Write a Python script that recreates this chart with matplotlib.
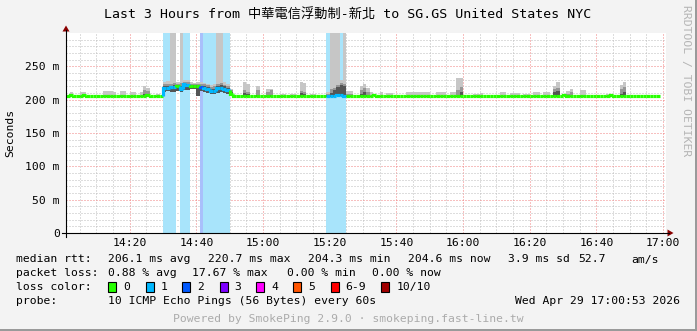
import matplotlib
matplotlib.use("Agg")
import matplotlib.pyplot as plt
from matplotlib.collections import LineCollection
from matplotlib.patches import Rectangle, Polygon

plt.rcParams['font.family'] = ['DejaVu Sans Mono', 'Noto Sans CJK TC']

W, H = 697, 331

# one value per minute, minute 1 = 14:01 ... minute 178 = 16:58
median = [
    205, 206.5, 205, 205, 205, 206.5, 205, 205, 205, 205,
    205, 205, 205, 205, 205, 205, 205, 205, 205, 205,
    205, 205, 205, 205, 206.5, 205, 205, 205, 205, 218,
    218, 219, 219, 220, 216, 223, 222, 220, 220, 220,
    219, 218, 216, 213, 213, 217, 218, 216, 215, 208,
    205, 205, 205, 205, 205, 205, 205, 205, 205, 205,
    205, 205, 205, 205, 205, 205, 205, 205, 205, 205,
    205, 205, 205, 205, 205, 205, 205, 205, 206, 205.5,
    206, 207, 207, 206, 205, 205, 205, 205, 205, 205,
    205, 205, 206.5, 205, 205, 205, 205, 205, 205, 205,
    205, 205, 205, 205, 205, 205, 205, 205, 205, 205,
    205, 205, 205, 205, 205, 205, 205, 205, 205, 205,
    205, 205, 205, 205, 205, 205, 205, 205, 205, 205,
    205, 205, 205, 205, 205, 205, 205, 205, 205, 205,
    205, 205, 205, 205, 205, 205, 205, 205, 205, 206.5,
    205, 205, 205, 205, 205, 205, 205, 205, 205, 205,
    205, 205, 205, 206.5, 205, 205, 205, 205, 205, 205,
    205, 205, 205, 205, 205, 205, 205, 205,
]

loss = [
    0, 0, 0, 0, 0, 0, 0, 0, 0, 0, 0, 0, 0, 0, 0, 0, 0, 0, 0, 0,
    0, 0, 0, 0, 0, 0, 0, 0, 0, 1, 1, 1, 1, 0, 1, 1, 1, 0, 0, 0,
    2, 1, 1, 1, 1, 1, 1, 1, 1, 0, 0, 0, 0, 0, 0, 0, 0, 0, 0, 0,
    0, 0, 0, 0, 0, 0, 0, 0, 0, 0, 0, 0, 0, 0, 0, 0, 0, 0, 1, 1,
    1, 1, 1, 1, 0, 0, 0, 0, 0, 0, 0, 0, 0, 0, 0, 0, 0, 0, 0, 0,
    0, 0, 0, 0, 0, 0, 0, 0, 0, 0, 0, 0, 0, 0, 0, 0, 0, 0, 0, 0,
    0, 0, 0, 0, 0, 0, 0, 0, 0, 0, 0, 0, 0, 0, 0, 0, 0, 0, 0, 0,
    0, 0, 0, 0, 0, 0, 0, 0, 0, 0, 0, 0, 0, 0, 0, 0, 0, 0, 0, 0,
    0, 0, 0, 0, 0, 0, 0, 0, 0, 0, 0, 0, 0, 0, 0, 0, 0, 0,
]

# smoke (ping spread) for the minutes where it shows above the median line
smoke_minute = [2, 5, 6, 12, 13, 14, 15, 17, 18, 20, 21, 23, 24, 25, 28,
                30, 31, 32, 33, 34, 35, 36, 37, 38, 39, 40, 41, 42, 43, 44,
                45, 46, 47, 48, 49, 50, 54, 55, 58, 61, 62, 65, 66, 68, 69,
                71, 72, 74, 75, 79, 80, 81, 82, 83, 84, 85, 86, 89, 90, 91,
                92, 95, 97, 98, 103, 104, 105, 106, 107, 108, 109, 112, 113, 114, 116,
                117, 118, 119, 123, 124, 125, 131, 132, 134, 135, 136, 138, 139, 141, 142,
                144, 145, 147, 148, 151, 152, 155, 156, 163, 164, 167, 168]
smoke_low = [204, 204, 204, 204, 204, 204, 204, 204, 204, 204, 204, 204, 204, 204, 204,
             212, 213, 212, 212, 213, 211, 214, 215, 216, 216, 206, 213, 212, 210, 208,
             208, 210, 212, 210, 208, 205, 204, 204, 204, 204, 204, 204, 204, 204, 204,
             204, 204, 204, 204, 204, 204, 204, 205, 205, 205, 204, 204, 204, 204, 204,
             204, 204, 204, 204, 204, 204, 204, 204, 204, 204, 204, 204, 204, 204, 204,
             204, 204, 204, 204, 204, 204, 204, 204, 204, 204, 204, 204, 204, 204, 204,
             204, 204, 204, 204, 204, 204, 204, 204, 204, 204, 204, 204]
smoke_dark = [205, 205, 205, 205, 205, 205, 205, 205, 205, 205, 205, 205, 209, 208, 205,
              221, 220, 221, 222, 222, 220, 225, 224, 222, 222, 222, 221, 221, 219, 216,
              216, 221, 222, 220, 218, 212, 210, 208, 207, 206, 207, 205, 205, 205, 205,
              210, 209, 205, 205, 207, 210, 214, 219, 222, 220, 205, 205, 208, 212, 207,
              205, 205, 205, 205, 205, 205, 205, 205, 205, 205, 205, 205, 205, 205, 205,
              205, 206, 212, 205, 205, 205, 205, 205, 205, 205, 205, 205, 205, 205, 205,
              205, 205, 211, 213, 205, 206, 205, 205, 205, 205, 208, 212]
smoke_mid = [205, 205, 205, 207, 207, 206, 205, 207, 207, 205, 205, 205, 214, 213, 205,
             223, 223, 224, 225, 224, 225, 227, 226, 224, 224, 224, 224, 224, 222, 219,
             220, 224, 225, 222, 220, 214, 214, 212, 215, 212, 214, 205, 205, 205, 205,
             213, 212, 205, 205, 209, 216, 218, 222, 225, 224, 209, 208, 214, 217, 211,
             205, 205, 205, 205, 205, 205, 205, 205, 205, 205, 205, 205, 205, 205, 205,
             205, 214, 219, 205, 205, 205, 205, 205, 205, 205, 205, 205, 205, 205, 205,
             205, 205, 216, 218, 208, 211, 207, 207, 205, 205, 216, 219]
smoke_max = [211, 211, 211, 213, 213, 213, 211, 213, 213, 211, 211, 211, 221, 218, 209,
             226, 228, 320, 320, 227, 320, 230, 229, 226, 225, 226, 226, 225, 224, 222,
             224, 320, 320, 226, 223, 216, 226, 224, 221, 216, 216, 209, 209, 209, 209,
             227, 225, 209, 209, 212, 320, 320, 320, 230, 320, 213, 213, 220, 223, 217,
             212, 211, 210, 210, 211, 212, 212, 211, 211, 211, 211, 212, 212, 212, 211,
             211, 232, 232, 209, 209, 210, 212, 212, 210, 210, 210, 209, 209, 212, 212,
             211, 211, 220, 226, 213, 216, 214, 214, 209, 209, 222, 226]

loss_colors = ['#26ff00', '#00b8ff', '#0059ff', '#7e00ff', '#ff00ff',
               '#ff5500', '#ff0000', '#a10000']
band_colors = {1: '#a8e4fb', 2: '#a9c0fb'}

x_labels = ['14:20', '14:40', '15:00', '15:20', '15:40', '16:00', '16:20', '16:40', '17:00']
y_labels = ['0', '50 m', '100 m', '150 m', '200 m', '250 m']

fig = plt.figure(figsize=(W / 100, H / 100), dpi=100, facecolor='#f3f3f3')
ax = fig.add_axes([66 / W, (H - 233) / H, 600 / W, 200 / H])
ax.set_facecolor('white')
ax.set_xlim(0.883, 180.883)
ax.set_ylim(0, 300)

minutes = list(range(1, len(median) + 1))

# loss background
for m, l in zip(minutes, loss):
    if l > 0:
        ax.axvspan(m, m + 1, color=band_colors[l], lw=0, zorder=1)

# smoke
ax.bar(smoke_minute, [t - b for t, b in zip(smoke_max, smoke_low)], bottom=smoke_low,
       width=1, align='edge', color='#c6c6c6', lw=0, zorder=2)
ax.bar(smoke_minute, [t - b for t, b in zip(smoke_mid, smoke_low)], bottom=smoke_low,
       width=1, align='edge', color='#969696', lw=0, zorder=3)
ax.bar(smoke_minute, [t - b for t, b in zip(smoke_dark, smoke_low)], bottom=smoke_low,
       width=1, align='edge', color='#555555', lw=0, zorder=4)

# median line, coloured by loss
segs, cols = [], []
prev = median[0]
for m, v, l in zip(minutes, median, loss):
    segs.append([(m, prev), (m, v), (m + 1, v)])
    cols.append(loss_colors[l])
    prev = v
ax.add_collection(LineCollection(segs, colors=cols, linewidths=2.3,
                                 capstyle='butt', joinstyle='miter', zorder=5))

# grid
ax.set_xticks([20, 40, 60, 80, 100, 120, 140, 160, 180])
ax.set_xticklabels(x_labels)
ax.set_xticks(range(5, 181, 5), minor=True)
ax.set_yticks([0, 50, 100, 150, 200, 250])
ax.set_yticklabels(y_labels)
ax.set_yticks(range(10, 300, 10), minor=True)
ax.grid(which='minor', color='#bdbdbd', lw=0.72, ls=(0, (1, 2)), zorder=0)
ax.grid(which='major', color='#f08080', lw=0.72, ls=(0, (1, 2)), zorder=0)
ax.set_axisbelow(True)
ax.tick_params(which='both', length=0, labelsize=8.2, colors='black')
ax.tick_params(axis='x', pad=3.5)
ax.tick_params(axis='y', pad=4.5)
for s in ax.spines.values():
    s.set_visible(False)

# overlay in pixel coordinates for axes lines, arrows, texts
ov = fig.add_axes([0, 0, 1, 1])
ov.set_xlim(0, W)
ov.set_ylim(H, 0)
ov.axis('off')
ov.patch.set_alpha(0)

ov.plot([62, 669], [233, 233], color='black', lw=0.8)
ov.plot([66, 66], [237, 30], color='black', lw=0.8)
ov.add_patch(Polygon([[62.5, 31.5], [69.5, 31.5], [66, 25.5]], color='#8b0000', lw=0))
ov.add_patch(Polygon([[667.5, 229.5], [667.5, 236.5], [673.5, 233]], color='#8b0000', lw=0))

ov.add_patch(Rectangle((695, 0), 2, H, color='#9a9a9a', lw=0))
ov.add_patch(Rectangle((0, 329), W, 2, color='#9a9a9a', lw=0))

ov.text(348, 15, 'Last 3 Hours from 中華電信浮動制-新北 to SG.GS United States NYC',
        ha='center', va='center', fontsize=9.5)
ov.text(10, 133, 'Seconds', rotation=90, ha='center', va='center', fontsize=8.2)
ov.text(685.5, 5, 'RRDTOOL / TOBI OETIKER', rotation=270, ha='center', va='top',
        fontsize=8.2, color='#b4b4b4')

fs = 8.2
row1 = [('median rtt:', 16), ('206.1 ms avg', 107.5), ('220.7 ms max', 208),
        ('204.3 ms min', 307.6), ('204.6 ms now', 408), ('3.9 ms sd', 507.6),
        ('52.7', 577.8), ('am/s', 631)]
row2 = [('packet loss:', 16), ('0.88 % avg', 107.5), ('17.67 % max', 192),
        ('0.00 % min', 286.7), ('0.00 % now', 372.4)]
for txt, x in row1:
    ov.text(x, 259.5, txt, ha='left', va='center', fontsize=fs)
for txt, x in row2:
    ov.text(x, 273.5, txt, ha='left', va='center', fontsize=fs)

ov.text(16, 287, 'loss color:', ha='left', va='center', fontsize=fs)
loss_legend = ['0', '1', '2', '3', '4', '5', '6-9', '10/10']
box_x = [108, 145.8, 182, 219.6, 256.4, 293.3, 330.7, 381.3]
for lab, bx, c in zip(loss_legend, box_x, loss_colors):
    ov.add_patch(Rectangle((bx, 282), 8, 10, facecolor=c, edgecolor='black', lw=0.8))
    ov.text(bx + 15, 287, lab, ha='left', va='center', fontsize=fs)

ov.text(16, 301.5, 'probe:', ha='left', va='center', fontsize=fs)
ov.text(107.5, 301.5, '10 ICMP Echo Pings (56 Bytes) every 60s', ha='left', va='center', fontsize=fs)
ov.text(680, 301.5, 'Wed Apr 29 17:00:53 2026', ha='right', va='center', fontsize=fs)
ov.text(348.5, 318.5, 'Powered by SmokePing 2.9.0 · smokeping.fast-line.tw',
        ha='center', va='center', fontsize=fs, color='#ababab')

fig.savefig('out.png', dpi=100, facecolor=fig.get_facecolor())
